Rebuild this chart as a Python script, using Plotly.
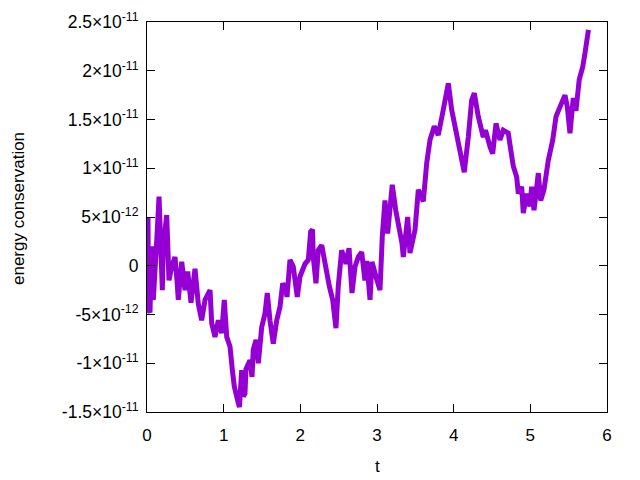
import plotly.graph_objects as go

t_vals = [0.000, 0.013, 0.020, 0.039, 0.061, 0.082, 0.127, 0.157, 0.200, 0.213, 0.257, 0.287,
          0.322, 0.365, 0.391, 0.408, 0.453, 0.496, 0.531, 0.574, 0.626, 0.669, 0.713, 0.757,
          0.822, 0.844, 0.887, 0.930, 0.974, 1.008, 1.040, 1.083, 1.113, 1.139, 1.191, 1.206,
          1.235, 1.256, 1.278, 1.291, 1.343, 1.370, 1.386, 1.422, 1.452, 1.496, 1.539, 1.569,
          1.604, 1.647, 1.692, 1.735, 1.770, 1.813, 1.826, 1.865, 1.908, 1.960, 1.996, 2.061,
          2.104, 2.135, 2.159, 2.169, 2.204, 2.234, 2.279, 2.335, 2.378, 2.422, 2.446, 2.465,
          2.495, 2.539, 2.596, 2.635, 2.674, 2.713, 2.756, 2.800, 2.843, 2.866, 2.909, 2.935,
          3.000, 3.039, 3.069, 3.104, 3.139, 3.199, 3.244, 3.287, 3.326, 3.343, 3.400, 3.430,
          3.496, 3.539, 3.604, 3.648, 3.691, 3.747, 3.799, 3.852, 3.887, 3.930, 3.974, 4.017,
          4.060, 4.105, 4.138, 4.191, 4.235, 4.269, 4.321, 4.386, 4.415, 4.474, 4.509, 4.552,
          4.604, 4.647, 4.712, 4.744, 4.778, 4.822, 4.843, 4.887, 4.908, 4.952, 4.995, 5.017,
          5.048, 5.104, 5.135, 5.178, 5.234, 5.292, 5.335, 5.387, 5.452, 5.482, 5.517, 5.560,
          5.595, 5.638, 5.683, 5.713, 5.743, 5.758]

# energy conservation values, in units of 1e-12
e_vals = [0.0, 4.9, -4.5, -4.8, 2.0, -3.5, 2.6, 7.1, -2.5, 2.0, 5.2, -1.5,
          -0.1, 0.9, -1.5, -3.5, 0.4, -2.5, -0.6, -3.8, -0.3, -3.9, -5.6, -3.5,
          -2.5, -5.9, -7.3, -5.6, -6.9, -3.5, -7.3, -8.3, -10.7, -12.4, -14.1, -14.5,
          -10.7, -13.4, -13.1, -10.6, -9.7, -11.4, -8.6, -7.6, -10.0, -6.3, -4.9, -2.8,
          -5.6, -8.0, -5.6, -4.2, -1.8, -2.5, -3.2, 0.6, -0.1, -3.2, -1.1, 0.2,
          0.6, 3.5, 3.7, 0.9, -1.8, 1.6, 2.1, -0.4, -2.1, -3.5, -5.6, -6.4,
          -2.1, 1.6, 0.2, 1.8, -2.8, -0.1, 0.9, 1.4, -1.5, 0.5, -3.5, 0.4,
          -1.5, -2.5, 3.0, 6.7, 3.3, 8.3, 5.7, 4.0, 2.3, 0.9, 5.0, 1.3,
          3.7, 7.8, 6.6, 10.5, 12.9, 14.3, 13.4, 15.5, 17.0, 18.7, 16.0, 14.2,
          12.9, 10.8, 9.6, 13.2, 17.0, 17.7, 15.3, 13.2, 13.9, 12.2, 11.5, 14.6,
          12.9, 13.9, 13.6, 11.9, 10.2, 9.1, 7.4, 8.1, 5.4, 7.4, 6.1, 8.1,
          5.7, 9.5, 6.7, 7.8, 10.8, 12.9, 15.3, 16.3, 17.5, 16.3, 13.6, 17.2,
          15.9, 19.1, 20.4, 21.8, 23.8, 24.2]

SUP = "<sup>%s</sup>"
y_tick_vals = [-15e-12, -10e-12, -5e-12, 0, 5e-12, 10e-12, 15e-12, 20e-12, 25e-12]
y_tick_text = ["-1.5×10" + SUP % "-11", "-1×10" + SUP % "-11", "-5×10" + SUP % "-12", "0",
               "5×10" + SUP % "-12", "1×10" + SUP % "-11", "1.5×10" + SUP % "-11",
               "2×10" + SUP % "-11", "2.5×10" + SUP % "-11"]
x_tick_vals = [0, 1, 2, 3, 4, 5, 6]

fig = go.Figure()
fig.add_trace(go.Scatter(
    x=t_vals, y=[v * 1e-12 for v in e_vals], mode="lines",
    line=dict(color="#9400D3", width=5), showlegend=False, hoverinfo="skip"))

axis_common = dict(showline=True, linecolor="black", linewidth=1, mirror="ticks",
                   ticks="inside", ticklen=8, tickcolor="black", showgrid=False,
                   zeroline=False, automargin=False)

fig.update_layout(
    width=640, height=480,
    margin=dict(l=147, r=33, t=22, b=68),
    paper_bgcolor="white", plot_bgcolor="white",
    font=dict(family="Liberation Sans, Arial, sans-serif", size=16, color="black"),
    xaxis=dict(range=[0, 6], tickvals=x_tick_vals, ticklabelstandoff=8,
               tickfont=dict(size=17, color="black"), **axis_common),
    yaxis=dict(range=[-15e-12, 25e-12], tickvals=y_tick_vals, ticktext=y_tick_text,
               ticklabelstandoff=4, tickfont=dict(size=17.5, color="black"), **axis_common),
    annotations=[
        dict(text="t", xref="paper", yref="paper", x=0.502, y=-0.1385,
             xanchor="center", yanchor="middle", showarrow=False, font=dict(size=17)),
        dict(text="energy conservation", xref="paper", yref="paper", x=-0.2804, y=0.5205,
             xanchor="center", yanchor="middle", showarrow=False, textangle=-90,
             font=dict(size=17)),
    ],
)

fig.write_html("out.html", config={"displayModeBar": False},
               post_script="document.body.style.margin='0px';")
